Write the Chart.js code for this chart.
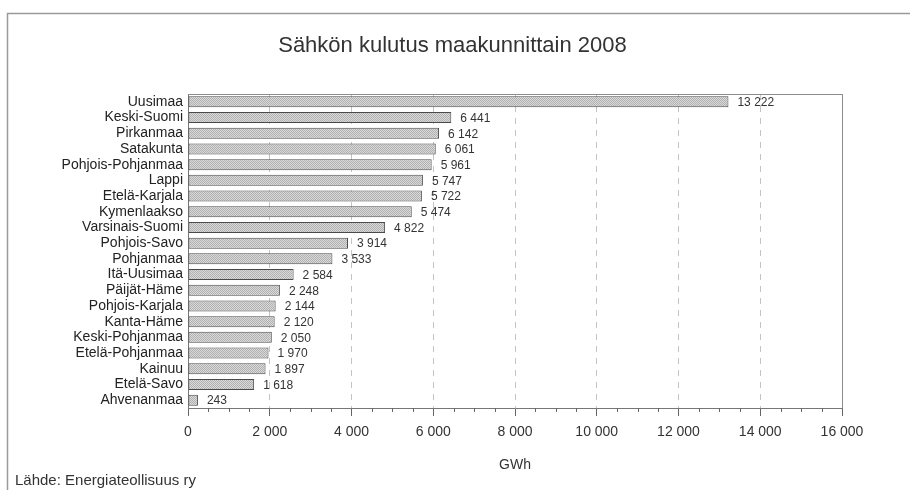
<!DOCTYPE html>
<html lang="fi">
<head>
  <meta charset="UTF-8">
  <title>Sähkön kulutus maakunnittain 2008</title>
  <script src="https://cdn.jsdelivr.net/npm/chart.js"></script>
  <style>
    * { margin: 0; padding: 0; box-sizing: border-box; }
    body { background: #fff; width: 910px; height: 490px; overflow: hidden; }
    canvas { display: block; }
  </style>
</head>
<body>
  <canvas id="kulutusChart" width="910" height="490"></canvas>

  <script>
    // data (GWh)
    const regions = ['Uusimaa', 'Keski-Suomi', 'Pirkanmaa', 'Satakunta', 'Pohjois-Pohjanmaa',
      'Lappi', 'Etelä-Karjala', 'Kymenlaakso', 'Varsinais-Suomi', 'Pohjois-Savo',
      'Pohjanmaa', 'Itä-Uusimaa', 'Päijät-Häme', 'Pohjois-Karjala', 'Kanta-Häme',
      'Keski-Pohjanmaa', 'Etelä-Pohjanmaa', 'Kainuu', 'Etelä-Savo', 'Ahvenanmaa'];
    const consumption = [13222, 6441, 6142, 6061, 5961, 5747, 5722, 5474, 4822, 3914,
      3533, 2584, 2248, 2144, 2120, 2050, 1970, 1897, 1618, 243];
    const axisMin = 0;
    const axisMax = 16000;
    const majorStep = 2000;
    const minorStep = 500;
    const titleText = 'Sähkön kulutus maakunnittain 2008';
    const unitText = 'GWh';
    const sourceText = 'Lähde: Energiateollisuus ry';

    const FONT = '"Liberation Sans", Arial, sans-serif';

    // 1 234 style numbers
    function fmt(n) {
      return String(n).replace(/\B(?=(\d{3})+(?!\d))/g, ' ');
    }

    // stippled grey fill like the printed bars
    function barPattern() {
      const c = document.createElement('canvas');
      c.width = 2; c.height = 2;
      const g = c.getContext('2d');
      g.fillStyle = '#dadada';
      g.fillRect(0, 0, 2, 2);
      g.fillStyle = '#b0b0b0';
      g.fillRect(0, 0, 1, 1);
      g.fillRect(1, 1, 1, 1);
      return g.createPattern(c, 'repeat');
    }

    // outer frame, plot box, minor ticks, value labels, source
    const extras = {
      id: 'extras',
      beforeDraw(chart) {
        const ctx = chart.ctx;
        ctx.save();
        ctx.strokeStyle = '#9a9a9a';
        ctx.lineWidth = 1.5;
        ctx.beginPath();
        ctx.moveTo(7.5, 490);
        ctx.lineTo(7.5, 13.5);
        ctx.lineTo(910, 13.5);
        ctx.stroke();
        ctx.restore();
      },
      afterDraw(chart) {
        const ctx = chart.ctx;
        const area = chart.chartArea;
        const x = chart.scales.x;
        ctx.save();
        // top and right edges of the plot
        ctx.strokeStyle = '#8c8c8c';
        ctx.lineWidth = 1;
        ctx.beginPath();
        ctx.moveTo(area.left, area.top + 0.5);
        ctx.lineTo(area.right + 0.5, area.top + 0.5);
        ctx.lineTo(area.right + 0.5, area.bottom);
        ctx.stroke();
        // minor ticks
        ctx.strokeStyle = '#666';
        ctx.beginPath();
        for (let v = axisMin + minorStep; v < axisMax; v += minorStep) {
          if (v % majorStep === 0) continue;
          const px = Math.round(x.getPixelForValue(v)) + 0.5;
          ctx.moveTo(px, area.bottom);
          ctx.lineTo(px, area.bottom + 4);
        }
        ctx.stroke();
        // value labels
        ctx.fillStyle = '#333';
        ctx.font = '12px ' + FONT;
        ctx.textAlign = 'left';
        ctx.textBaseline = 'middle';
        chart.getDatasetMeta(0).data.forEach((bar, i) => {
          ctx.fillText(fmt(consumption[i]), bar.x + 9, bar.y + 1);
        });
        // source
        ctx.font = '15px ' + FONT;
        ctx.fillStyle = '#333';
        ctx.fillText(sourceText, 15, 481);
        ctx.restore();
      }
    };

    const ctx = document.getElementById('kulutusChart').getContext('2d');
    new Chart(ctx, {
      type: 'bar',
      data: {
        labels: regions,
        datasets: [{
          data: consumption,
          backgroundColor: barPattern(),
          borderColor: '#4a4a4a',
          borderWidth: 1,
          borderSkipped: false,
          barPercentage: 0.7,
          categoryPercentage: 1
        }]
      },
      options: {
        indexAxis: 'y',
        responsive: false,
        animation: false,
        devicePixelRatio: 1,
        layout: { padding: { top: 0, right: 5, bottom: 16, left: 0 } },
        plugins: {
          legend: { display: false },
          tooltip: { enabled: false },
          title: {
            display: true,
            text: titleText,
            color: '#333',
            font: { family: FONT, size: 22, weight: 'normal' },
            padding: { top: 33, bottom: 34.6 }
          }
        },
        scales: {
          x: {
            min: axisMin,
            max: axisMax,
            afterFit(scale) { scale.height = 66; },
            ticks: {
              stepSize: majorStep,
              color: '#333',
              padding: 8,
              maxRotation: 0,
              font: { family: FONT, size: 14 },
              callback: (v) => fmt(v)
            },
            grid: {
              color: '#c4c4c4',
              lineWidth: 1,
              tickColor: '#666',
              tickLength: 8,
              tickBorderDash: []
            },
            border: { display: true, color: '#777', width: 1, dash: [6, 6] },
            title: {
              display: true,
              text: unitText,
              color: '#333',
              font: { family: FONT, size: 14 },
              padding: { top: 0, bottom: 0 }
            }
          },
          y: {
            afterFit(scale) { scale.width = 188; },
            ticks: {
              color: '#222',
              padding: 5,
              autoSkip: false,
              font: { family: FONT, size: 14 }
            },
            grid: { display: false, drawTicks: false },
            border: { display: true, color: '#777', width: 1 }
          },
          // empty right-hand strip, keeps the plot narrower than the title row
          yRight: {
            type: 'category',
            position: 'right',
            afterFit(scale) { scale.width = 63; },
            ticks: { display: false },
            grid: { display: false, drawTicks: false },
            border: { display: false }
          }
        }
      },
      plugins: [extras]
    });
  </script>
</body>
</html>
